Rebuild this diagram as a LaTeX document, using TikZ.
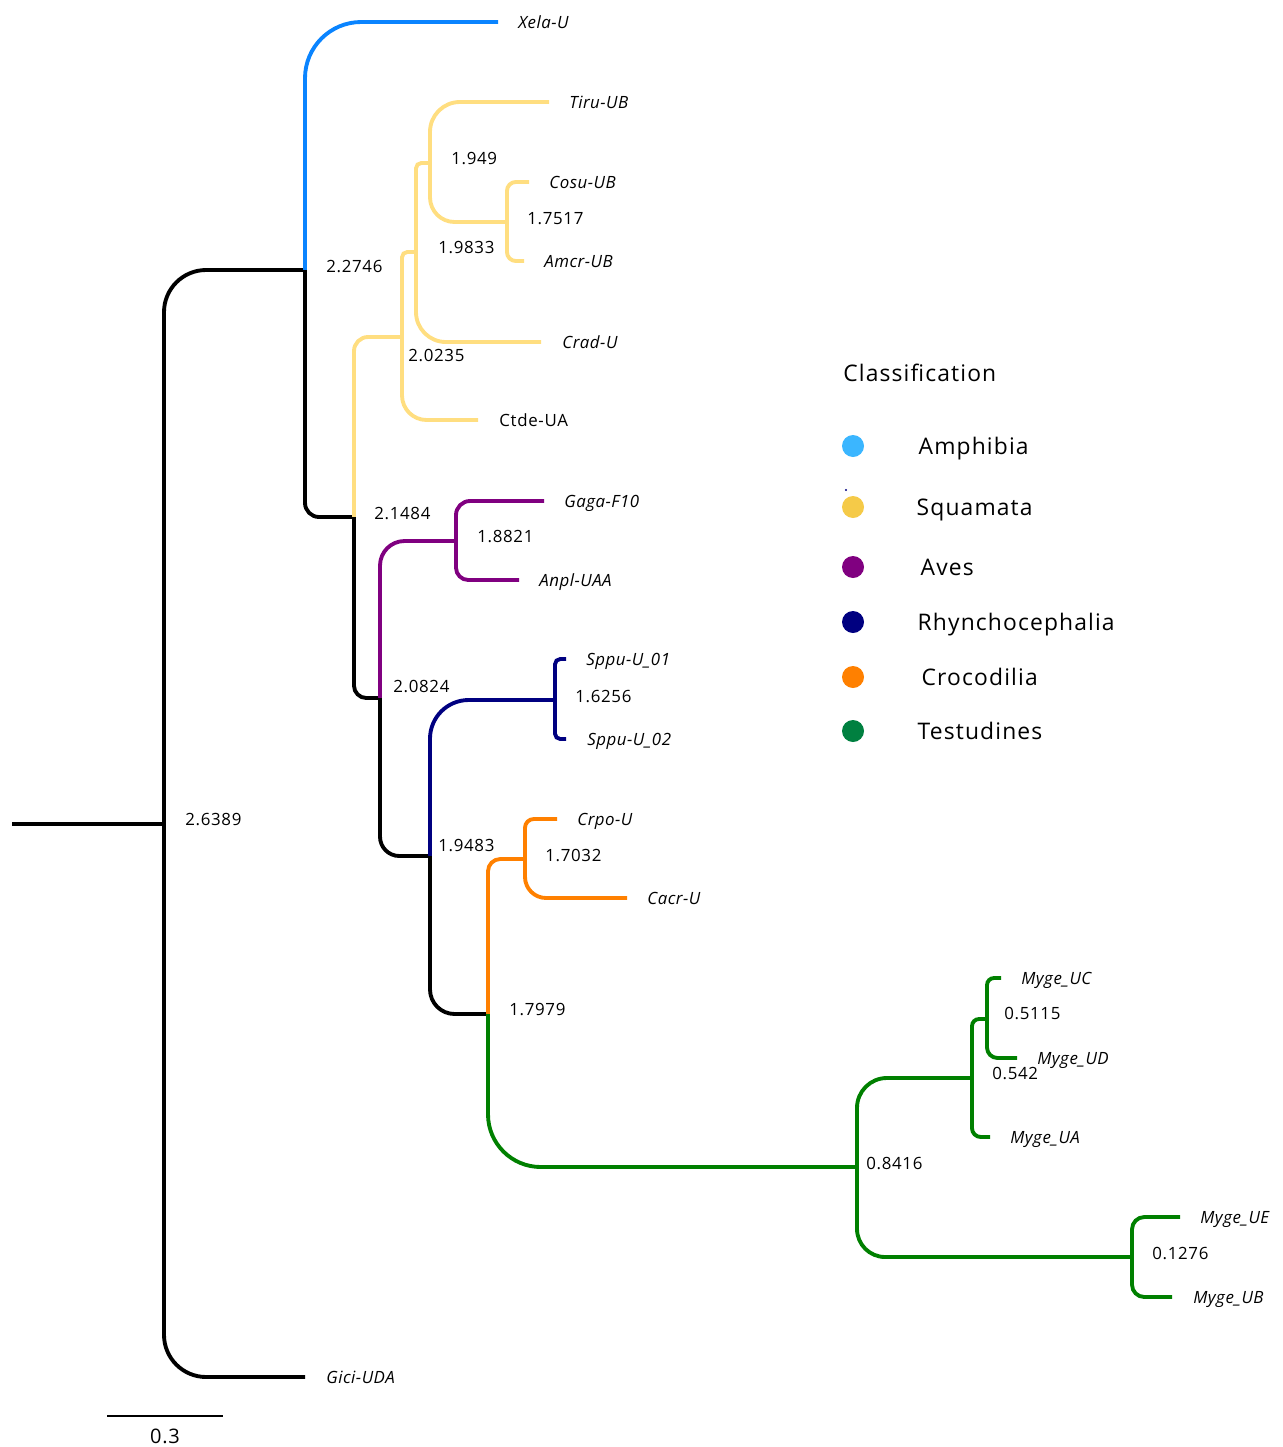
\documentclass[tikz,border=0pt]{standalone}
\usepackage{fontspec}
\setmainfont{Open Sans}
\newfontfamily\numfont[LetterSpace=4]{Open Sans}
\newfontfamily\tipfont[LetterSpace=3]{Open Sans}
\newfontfamily\legfont[LetterSpace=5]{Open Sans}
\usetikzlibrary{positioning}
\definecolor{amphcolor}{RGB}{10,132,255}
\definecolor{squacolor}{RGB}{255,222,128}
\definecolor{avescolor}{RGB}{128,0,128}
\definecolor{rhyncolor}{RGB}{0,0,128}
\definecolor{crococolor}{RGB}{255,128,0}
\definecolor{testcolor}{RGB}{0,128,0}
\definecolor{legamph}{RGB}{59,182,255}
\definecolor{legsqua}{RGB}{245,202,72}
\definecolor{legtest}{RGB}{0,128,64}
\tikzset{
  branch/.style={line width=2.2pt, draw=#1},
  branch/.default=black,
  leaflab/.style={anchor=mid west, inner sep=0pt, yshift=-0.9pt, font=\tipfont\fontsize{9.6}{11}\selectfont\itshape},
  leafup/.style={anchor=mid west, inner sep=0pt, yshift=-0.9pt, font=\numfont\fontsize{9.6}{11}\selectfont},
  bootlab/.style={anchor=mid west, inner sep=0pt, yshift=-1pt, font=\numfont\fontsize{9.6}{11}\selectfont},
  legdot/.style={circle, inner sep=0pt, minimum size=0.44cm},
  legtext/.style={anchor=mid west, inner sep=0pt, yshift=-1.9pt, font=\legfont\fontsize{13}{15}\selectfont}
}

\begin{document}
\begin{tikzpicture}[x=0.02cm, y=-0.02cm]
\useasboundingbox (0,0) rectangle (1282,1447);

% -------- inner nodes --------
\coordinate (root) at (12,824);
\coordinate (n1) at (164,824);
\coordinate (n2) at (305,270);
\coordinate (n3) at (354,517);
\coordinate (n4) at (402,337);
\coordinate (n5) at (416,252);
\coordinate (n6) at (430,163);
\coordinate (n7) at (507,222);
\coordinate (n8) at (380,698);
\coordinate (n9) at (456,541);
\coordinate (n10) at (430,856);
\coordinate (n11) at (555,700);
\coordinate (n12) at (488,1014);
\coordinate (n13) at (525,859);
\coordinate (n14) at (857,1167);
\coordinate (n15) at (972,1078);
\coordinate (n16) at (987,1019);
\coordinate (n17) at (1132,1257);

% -------- tips --------
\coordinate (xela) at (498,22);
\coordinate (tiru) at (549,102);
\coordinate (cosu) at (529,182);
\coordinate (amcr) at (524,261);
\coordinate (crad) at (541,342);
\coordinate (ctde) at (478,420);
\coordinate (gaga) at (544,501);
\coordinate (anpl) at (519,580);
\coordinate (sppua) at (566,659);
\coordinate (sppub) at (566,739);
\coordinate (crpo) at (557,819);
\coordinate (cacr) at (627,898);
\coordinate (mygeuc) at (1001,978);
\coordinate (mygeud) at (1017,1058);
\coordinate (mygeua) at (990,1137);
\coordinate (mygeue) at (1180,1217);
\coordinate (mygeub) at (1172,1297);
\coordinate (gici) at (305,1377);

% -------- branches --------
\draw[branch] (root) -- (n1);
\draw[branch, rounded corners=24pt] (n1) |- (n2);
\draw[branch, rounded corners=24pt] (n1) |- (gici);
\draw[branch=amphcolor, rounded corners=32pt] (n2) |- (xela);
\draw[branch, rounded corners=8pt] (n2) |- (n3);
\draw[branch=squacolor, rounded corners=8pt] (n3) |- (n4);
\draw[branch=squacolor, rounded corners=3pt] (n4) |- (n5);
\draw[branch=squacolor, rounded corners=14pt] (n4) |- (ctde);
\draw[branch=squacolor, rounded corners=3pt] (n5) |- (n6);
\draw[branch=squacolor, rounded corners=17pt] (n5) |- (crad);
\draw[branch=squacolor, rounded corners=17pt] (n6) |- (tiru);
\draw[branch=squacolor, rounded corners=14pt] (n6) |- (n7);
\draw[branch=squacolor, rounded corners=5pt] (n7) |- (cosu);
\draw[branch=squacolor, rounded corners=5pt] (n7) |- (amcr);
\draw[branch, rounded corners=7pt] (n3) |- (n8);
\draw[branch=avescolor, rounded corners=14pt] (n8) |- (n9);
\draw[branch=avescolor, rounded corners=8pt] (n9) |- (gaga);
\draw[branch=avescolor, rounded corners=7pt] (n9) |- (anpl);
\draw[branch, rounded corners=11pt] (n8) |- (n10);
\draw[branch=rhyncolor, rounded corners=22pt] (n10) |- (n11);
\draw[branch=rhyncolor, rounded corners=3pt] (n11) |- (sppua);
\draw[branch=rhyncolor, rounded corners=3pt] (n11) |- (sppub);
\draw[branch, rounded corners=14pt] (n10) |- (n12);
\draw[branch=crococolor, rounded corners=7pt] (n12) |- (n13);
\draw[branch=crococolor, rounded corners=5pt] (n13) |- (crpo);
\draw[branch=crococolor, rounded corners=12pt] (n13) |- (cacr);
\draw[branch=testcolor, rounded corners=30pt] (n12) |- (n14);
\draw[branch=testcolor, rounded corners=17pt] (n14) |- (n15);
\draw[branch=testcolor, rounded corners=16pt] (n14) |- (n17);
\draw[branch=testcolor, rounded corners=4pt] (n15) |- (n16);
\draw[branch=testcolor, rounded corners=5pt] (n15) |- (mygeua);
\draw[branch=testcolor, rounded corners=4pt] (n16) |- (mygeuc);
\draw[branch=testcolor, rounded corners=6pt] (n16) |- (mygeud);
\draw[branch=testcolor, rounded corners=7pt] (n17) |- (mygeue);
\draw[branch=testcolor, rounded corners=7pt] (n17) |- (mygeub);

% -------- tip labels --------
\node[right=0.4cm of xela, leaflab] (lxela) {Xela-U};
\node[right=0.4cm of tiru, leaflab] (ltiru) {Tiru-UB};
\node[right=0.4cm of cosu, leaflab] (lcosu) {Cosu-UB};
\node[right=0.4cm of amcr, leaflab] (lamcr) {Amcr-UB};
\node[right=0.42cm of crad, leaflab] (lcrad) {Crad-U};
\node[right=0.42cm of ctde, leafup] (lctde) {Ctde-UA};
\node[right=0.4cm of gaga, leaflab] (lgaga) {Gaga-F10};
\node[right=0.4cm of anpl, leaflab] (lanpl) {Anpl-UAA};
\node[right=0.4cm of sppua, leaflab] (lsppua) {Sppu-U\_01};
\node[right=0.42cm of sppub, leaflab] (lsppub) {Sppu-U\_02};
\node[right=0.4cm of crpo, leaflab] (lcrpo) {Crpo-U};
\node[right=0.4cm of cacr, leaflab] (lcacr) {Cacr-U};
\node[right=0.4cm of mygeuc, leaflab] (lmygeuc) {Myge\_UC};
\node[right=0.4cm of mygeud, leaflab] (lmygeud) {Myge\_UD};
\node[right=0.4cm of mygeua, leaflab] (lmygeua) {Myge\_UA};
\node[right=0.4cm of mygeue, leaflab] (lmygeue) {Myge\_UE};
\node[right=0.42cm of mygeub, leaflab] (lmygeub) {Myge\_UB};
\node[right=0.42cm of gici, leaflab] (lgici) {Gici-UDA};

% -------- node values --------
\node[bootlab] (b1) at ([shift={(21,-5)}]n1) {2.6389};
\node[bootlab] (b2) at ([shift={(21,-4)}]n2) {2.2746};
\node[bootlab] (b3) at ([shift={(20,-4)}]n3) {2.1484};
\node[bootlab] (b4) at ([shift={(6,18)}]n4) {2.0235};
\node[bootlab] (b5) at ([shift={(22,-5)}]n5) {1.9833};
\node[bootlab] (b6) at ([shift={(21,-5)}]n6) {1.949};
\node[bootlab] (b7) at ([shift={(20,-4)}]n7) {1.7517};
\node[bootlab] (b8) at ([shift={(13,-12)}]n8) {2.0824};
\node[bootlab] (b9) at ([shift={(21,-5)}]n9) {1.8821};
\node[bootlab] (b10) at ([shift={(8,-11)}]n10) {1.9483};
\node[bootlab] (b11) at ([shift={(20,-4)}]n11) {1.6256};
\node[bootlab] (b12) at ([shift={(21,-5)}]n12) {1.7979};
\node[bootlab] (b13) at ([shift={(20,-4)}]n13) {1.7032};
\node[bootlab] (b14) at ([shift={(9,-4)}]n14) {0.8416};
\node[bootlab] (b15) at ([shift={(20,-5)}]n15) {0.542};
\node[bootlab] (b16) at ([shift={(17,-6)}]n16) {0.5115};
\node[bootlab] (b17) at ([shift={(20,-4)}]n17) {0.1276};

% -------- scale bar --------
\coordinate (sbl) at (107,1416);
\coordinate (sbr) at (223,1416);
\draw[line width=1.1pt] (sbl) -- (sbr);
\node[font=\numfont\fontsize{11.4}{13}\selectfont, inner sep=0pt] (sblab) at (165,1436) {0.3};

% -------- legend --------
\node[legtext] (legtitle) at (843,373) {Classification};
\node[legdot, fill=legamph] (d1) at (853,446) {};
\node[legdot, fill=legsqua] (d2) at (853,507) {};
\node[legdot, fill=avescolor] (d3) at (853,567) {};
\node[legdot, fill=rhyncolor] (d4) at (853,622) {};
\node[legdot, fill=crococolor] (d5) at (853,677) {};
\node[legdot, fill=legtest] (d6) at (853,731) {};
\fill[rhyncolor] (846,490) circle (1.2);
\node[right=1.08cm of d1, legtext] {Amphibia};
\node[right=1.04cm of d2, legtext] {Squamata};
\node[right=1.12cm of d3, legtext] {Aves};
\node[right=1.06cm of d4, legtext] {Rhynchocephalia};
\node[right=1.14cm of d5, legtext] {Crocodilia};
\node[right=1.06cm of d6, legtext] {Testudines};

\end{tikzpicture}
\end{document}
